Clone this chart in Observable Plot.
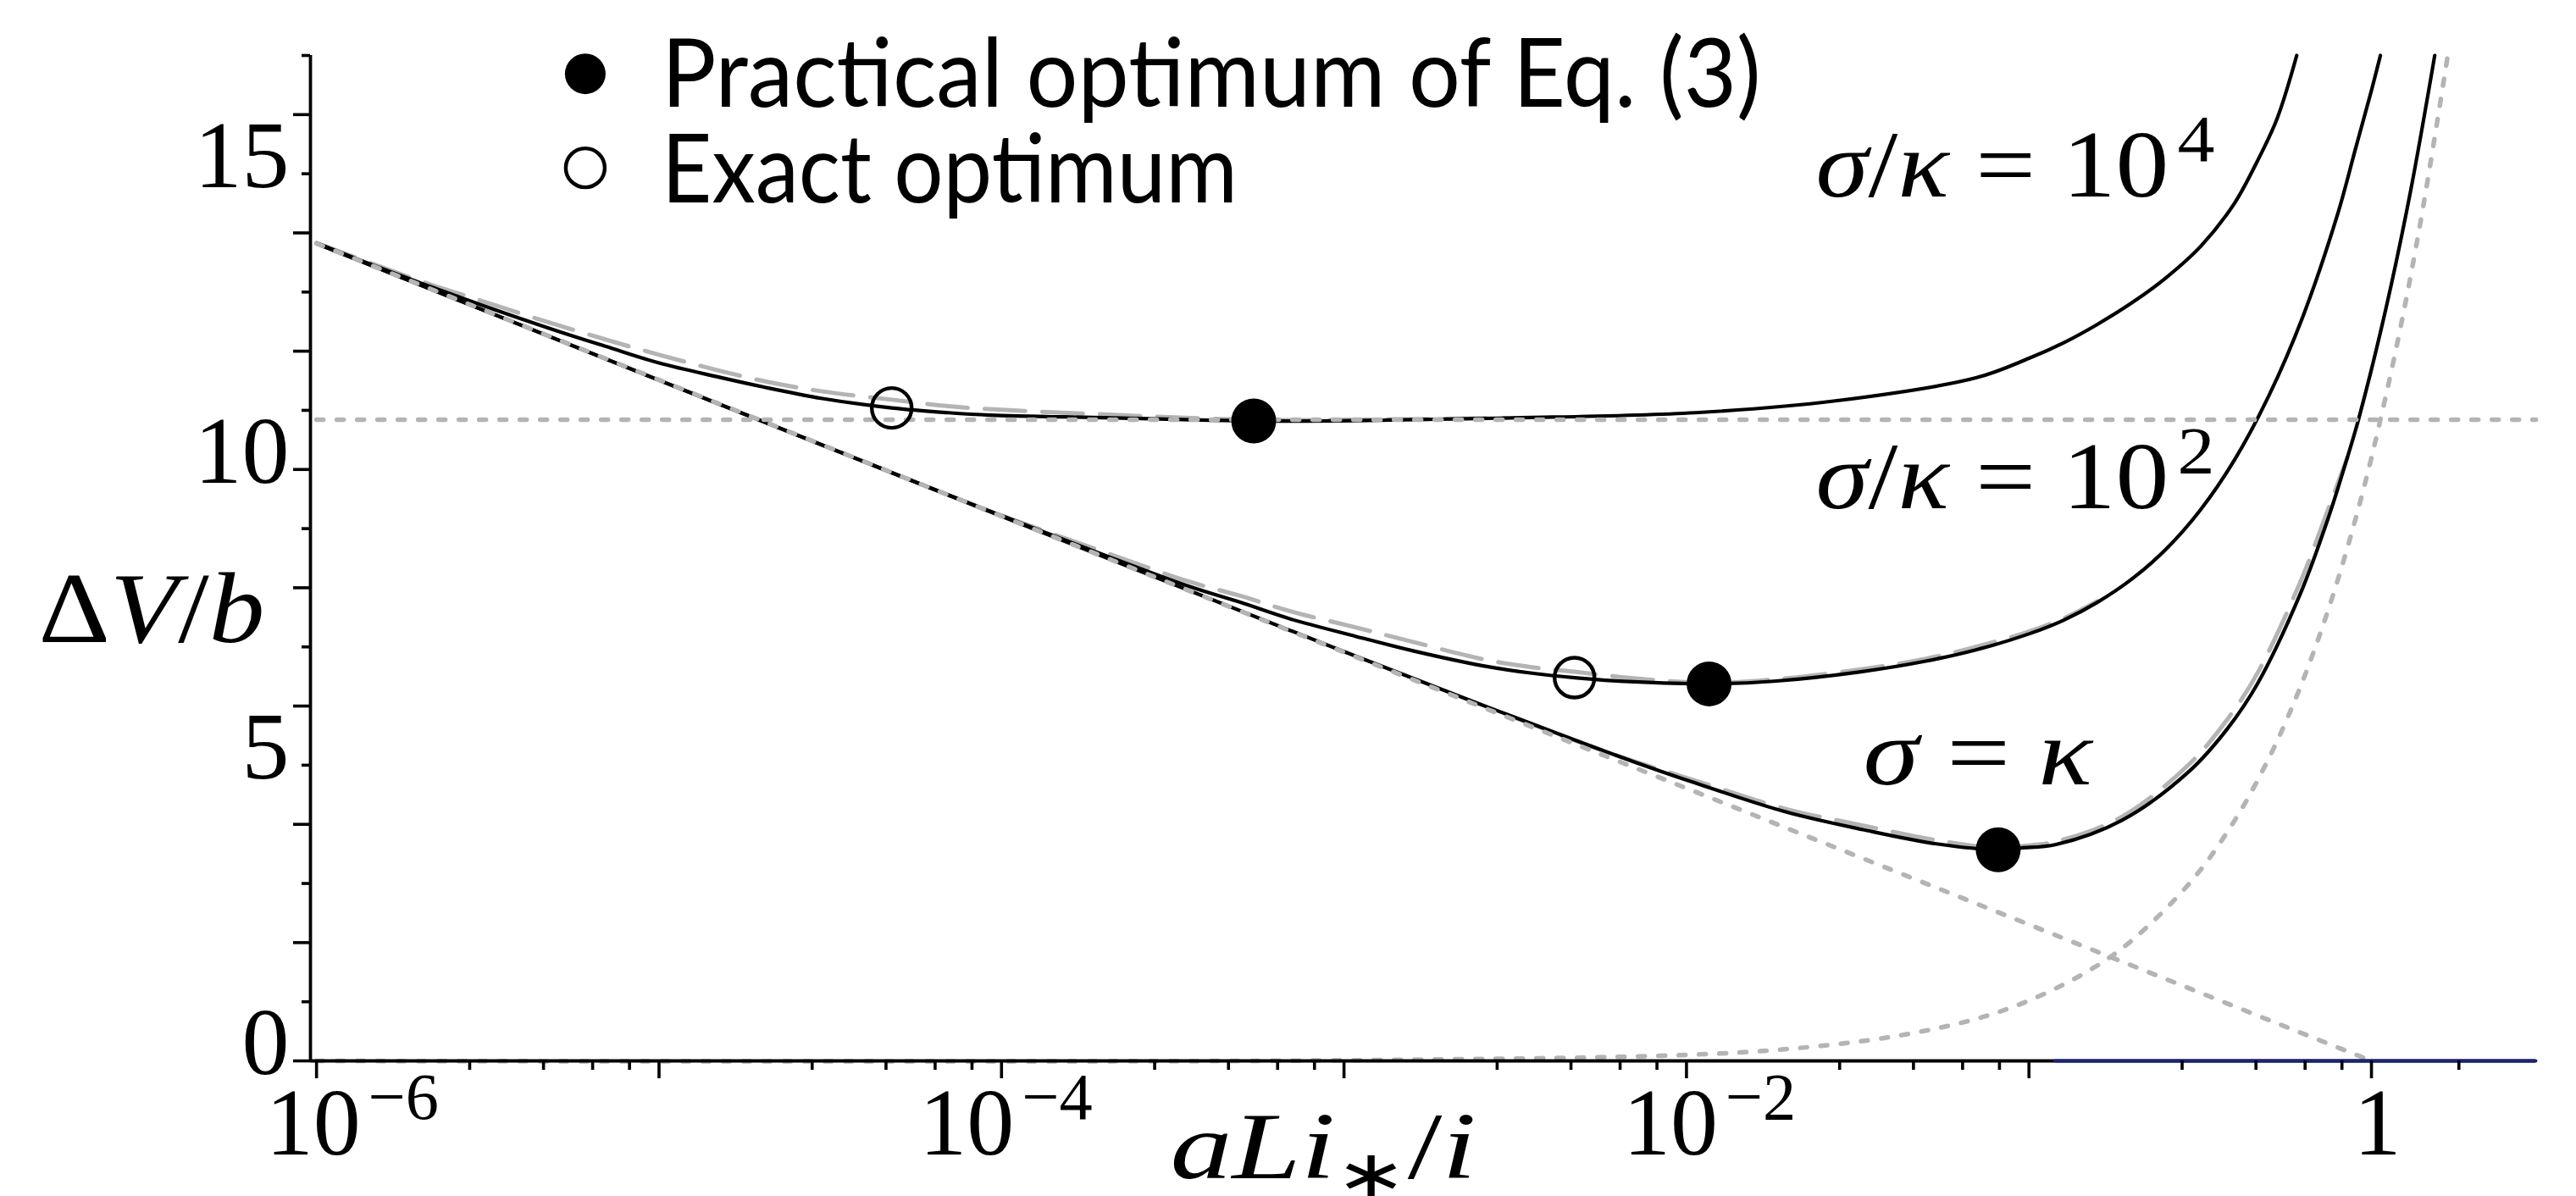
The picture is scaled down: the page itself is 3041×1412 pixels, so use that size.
<!DOCTYPE html>
<html><head><meta charset="utf-8">
<script src="https://cdn.jsdelivr.net/npm/d3@7"></script>
<script src="https://cdn.jsdelivr.net/npm/@observablehq/plot@0.6"></script>
<style>html,body{margin:0;padding:0;background:#fff;}svg{display:block;}</style>
</head><body>
<script>
// ---------------- data ----------------
// sigma/kappa = 10^4, solid (exact)
const curve4X = [1e-6,1.5e-6,2e-6,3e-6,5e-6,7e-6,1e-5,1.5e-5,2e-5,3e-5,4.78e-5,7e-5,9.25e-5,2e-4,5.45e-4,1.08e-3,3e-3,0.0106,0.0272,0.07,0.1,0.126,0.158,0.2,0.251,0.318,0.398,0.463,0.53,0.605];
const curve4Y = [13.83,13.43,13.16,12.79,12.35,12.08,11.80,11.56,11.40,11.20,11.04,10.96,10.92,10.875,10.82,10.825,10.87,10.96,11.16,11.55,11.88,12.14,12.45,12.82,13.24,13.78,14.5,15.2,15.93,17.0];
// sigma/kappa = 10^2, solid
const curve2X = [1e-6,1e-5,5e-5,1e-4,2e-4,3.5e-4,5e-4,7e-4,1.08e-3,1.6e-3,2.55e-3,3.5e-3,4.71e-3,7e-3,0.01164,0.018,0.0323,0.05,0.07,0.1,0.126,0.158,0.2,0.251,0.316,0.398,0.501,0.631,0.794,0.9,1.0,1.062];
const curve2Y = [13.82,11.51,9.90,9.22,8.55,8.03,7.75,7.47,7.18,6.93,6.68,6.56,6.48,6.41,6.375,6.42,6.58,6.76,6.95,7.22,7.45,7.75,8.15,8.65,9.31,10.16,11.24,12.59,14.29,15.44,16.41,17.0];
// sigma = kappa, solid
const curve1X = [1e-6,1e-5,1e-4,1e-3,2.5e-3,5e-3,7e-3,0.0106,0.0195,0.0328,0.0537,0.0813,0.0946,0.12,0.187,0.294,0.38,0.464,0.62,0.75,0.85,0.916,1.1,1.3,1.53];
const curve1Y = [13.82,11.51,9.21,6.92,6.03,5.37,5.06,4.70,4.21,3.91,3.67,3.57,3.60,3.66,4.07,4.90,5.62,6.37,7.90,9.20,10.2,10.84,12.70,14.70,17.00];
// gray dashed approximations
const dash4X = [1e-6,2e-6,3e-6,5e-6,1e-5,2e-5,3e-5,4.78e-5,7e-5,9.25e-5,2e-4,5.45e-4,1.5e-3,3e-3];
const dash4Y = [13.83,13.19,12.86,12.45,11.94,11.50,11.32,11.18,11.07,11.02,10.93,10.84,10.85,10.87];
const dash2X = [1e-4,2e-4,3.5e-4,5e-4,7e-4,1.08e-3,1.6e-3,2.55e-3,3.5e-3,4.71e-3,7e-3,0.01164,0.018,0.0323,0.05,0.07,0.1,0.126,0.158];
const dash2Y = [9.22,8.6,8.11,7.86,7.6,7.33,7.08,6.79,6.66,6.58,6.47,6.39,6.45,6.62,6.8,7.0,7.26,7.48,7.77];
const dash1X = [3e-3,6e-3,0.0106,0.0195,0.0328,0.0537,0.0813,0.0946,0.12,0.187,0.294,0.38,0.464,0.62,0.75,0.85];
const dash1Y = [5.85,5.20,4.74,4.26,3.98,3.73,3.60,3.63,3.71,4.13,5.02,5.78,6.55,8.10,9.35,10.2];
// gray dotted guides
const tafelX = [1e-6,1e-4,1e-2,1];
const tafelY = [13.82,9.21,4.61,0];
const ohmicX = [1e-6,1e-3,0.01,0.02,0.04,0.07,0.1,0.15,0.2,0.3,0.4,0.5,0.6,0.7,0.8,0.9,1.0,1.2,1.4,1.67];
const ohmicY = [0,0.01,0.102,0.204,0.41,0.71,1.02,1.53,2.04,3.06,4.08,5.1,6.12,7.14,8.16,9.18,10.2,12.24,14.28,17.0];
const plateauX = [1e-6,3.02];
const plateauY = [10.84,10.84];
// navy segment on the axis
const baseX = [0.119,3.018];
const baseY = [0,0];
// optima
const practicalX = [5.45e-4,0.01164,0.0813];
const practicalY = [10.82,6.375,3.57];
const exactX = [4.78e-5,4.71e-3];
const exactY = [11.04,6.48];
// ticks & labels
const yMajorTicks = [0,2,4,6,8,10,12,14,16];
const yMinorTicks = [1,3,5,7,9,11,13,15,17];
const yLabelValues = [0,5,10,15];
const yLabels = ["0","5","10","15"];
const xMajorTicks = [1e-6,1e-5,1e-4,1e-3,1e-2,1e-1,1];
const xMinorTicks = [2.8e-6,4.6e-6,6.4e-6,8.2e-6,2.8e-5,4.6e-5,6.4e-5,8.2e-5,2.8e-4,4.6e-4,6.4e-4,8.2e-4,2.8e-3,4.6e-3,6.4e-3,8.2e-3,2.8e-2,4.6e-2,6.4e-2,8.2e-2,0.28,0.46,0.64,0.82,1.8];
const xLabelValues = [1e-6,1e-4,1e-2,1];
const xLabels = ["10<sup>\u22126</sup>","10<sup>\u22124</sup>","10<sup>\u22122</sup>","1"];
const legendLabels = ["Practical optimum of Eq. (3)","Exact optimum"];
const curveLabels = ["<i>\u03c3</i>/<i>\u03ba</i> = 10<sup>4</sup>","<i>\u03c3</i>/<i>\u03ba</i> = 10<sup>2</sup>","<i>\u03c3</i> = <i>\u03ba</i>"];
const yTitle = "\u0394<i>V</i>/<i>b</i>";
const xTitle = "<i>aLi</i><sub>\u2217</sub>/<i>i</i>";

// ---------------- layout (styling) ----------------
const W = 3041, H = 1412, mL = 366, mR = 48, mT = 65, mB = 160;
const xDomain = [9.6e-7, 3.018];
const frameW = W - mL - mR, frameH = H - mT - mB;
const curveLabelPos = [[0.02385,14.61],[0.02385,9.34],[0.03281,4.67]];
const legendDotPos = [[6.09e-6,16.69],[6.09e-6,15.10]];
const legendTextPos = [[1.017e-5,16.13],[1.017e-5,14.51]];
const xLabelDx = [-60,-97,-75,-21];
const serif = "Liberation Serif, Times New Roman, serif";
const GRAY = "#b4b4b4";

const line = (X, Y, o) => Plot.line(X.map((_, i) => i), {x: i => X[i], y: i => Y[i], curve: "catmull-rom", ...o});
const solid = {stroke: "black", strokeWidth: 4.2};
const dashed = {stroke: GRAY, strokeWidth: 5, strokeDasharray: "48,20"};
const dotted = {stroke: GRAY, strokeWidth: 5.5, strokeDasharray: "8,16", curve: "linear"};

const chart = Plot.plot({
  width: W, height: H,
  marginLeft: mL, marginRight: mR, marginTop: mT, marginBottom: mB,
  x: {type: "log", domain: xDomain, axis: null},
  y: {domain: [0, 17], axis: null},
  style: {background: "white", fontFamily: serif, overflow: "visible"},
  marks: [
    line(dash4X, dash4Y, dashed),
    line(dash2X, dash2Y, dashed),
    line(dash1X, dash1Y, dashed),
    line(curve4X, curve4Y, solid),
    line(curve2X, curve2Y, solid),
    line(curve1X, curve1Y, solid),
    line(tafelX, tafelY, dotted),
    line(ohmicX, ohmicY, {...dotted, curve: "catmull-rom"}),
    line(plateauX, plateauY, dotted),
    Plot.ruleY([0], {stroke: "black", strokeWidth: 3.8}),
    Plot.ruleX([xDomain[0]], {y1: 0, y2: 17, stroke: "black", strokeWidth: 3.8}),
    line(baseX, baseY, {stroke: "#1c2470", strokeWidth: 3.8, curve: "linear"}),
    Plot.tickX(xMajorTicks, {x: d => d, insetTop: frameH - 21, dy: 21, stroke: "black", strokeWidth: 3.6}),
    Plot.tickX(xMinorTicks, {x: d => d, insetTop: frameH - 11, dy: 11, stroke: "black", strokeWidth: 3.6}),
    Plot.tickY(yMajorTicks, {y: d => d, insetRight: frameW - 20, dx: -20, stroke: "black", strokeWidth: 3.6}),
    Plot.tickY(yMinorTicks, {y: d => d, insetRight: frameW - 10, dx: -10, stroke: "black", strokeWidth: 3.6}),
    Plot.text(yLabelValues, {x: () => xDomain[0], y: d => d, text: (d, i) => yLabels[i], textAnchor: "end", dx: -25, dy: -20, fontSize: 112, fontFamily: serif}),
    ...xLabelValues.map((v, i) => Plot.text([v], {x: d => d, y: () => 0, text: () => xLabels[i], textAnchor: "start", lineAnchor: "bottom", dx: xLabelDx[i], dy: 110, fontSize: 112, fontFamily: serif})),
    Plot.dot(practicalX.map((_, i) => i), {x: i => practicalX[i], y: i => practicalY[i], r: 26.5, fill: "black", stroke: "none"}),
    Plot.dot(exactX.map((_, i) => i), {x: i => exactX[i], y: i => exactY[i], r: 23.5, fill: "none", stroke: "black", strokeWidth: 4.4}),
    Plot.dot([0], {x: () => legendDotPos[0][0], y: () => legendDotPos[0][1], r: 24, fill: "black", stroke: "none"}),
    Plot.dot([1], {x: () => legendDotPos[1][0], y: () => legendDotPos[1][1], r: 23, fill: "none", stroke: "black", strokeWidth: 4.4}),
    Plot.text(legendLabels, {x: (d, i) => legendTextPos[i][0], y: (d, i) => legendTextPos[i][1], textAnchor: "start", lineAnchor: "bottom", fontSize: 112, fontFamily: "Lato, Open Sans, sans-serif"}),
    Plot.text(curveLabels, {x: (d, i) => curveLabelPos[i][0], y: (d, i) => curveLabelPos[i][1], textAnchor: "start", lineAnchor: "bottom", fontSize: 112, fontFamily: serif}),
    Plot.text([yTitle], {frameAnchor: "top-left", dx: 45 - mL, dy: 757 - mT, textAnchor: "start", lineAnchor: "bottom", fontSize: 118, fontFamily: serif}),
    Plot.text([xTitle], {frameAnchor: "bottom-left", dx: 1381 - mL, dy: 1390 - (H - mB), textAnchor: "start", lineAnchor: "bottom", fontSize: 112, fontFamily: serif})
  ]
});
document.body.append(chart);

// ---------------- rich text (italic, superscript, subscript) ----------------
const NS = "http://www.w3.org/2000/svg";
const targetWidth = new Map([
  [legendLabels[0], 1298], [legendLabels[1], 680],
  [curveLabels[0], 471], [curveLabels[1], 471], [curveLabels[2], 272],
  [yTitle, 267], [xTitle, 361]
]);
chart.querySelectorAll("text").forEach(t => {
  const raw = t.textContent;
  if (/<(i|sup|sub)>/.test(raw)) {
    const fs = parseFloat(getComputedStyle(t).fontSize);
    const parts = raw.split(/(<\/?(?:i|sup|sub)>)/).filter(s => s);
    t.textContent = "";
    let italic = false, mode = null, shift = 0;
    for (const p of parts) {
      if (p === "<i>") { italic = true; continue; }
      if (p === "</i>") { italic = false; continue; }
      if (p === "<sup>") { mode = "sup"; continue; }
      if (p === "<sub>") { mode = "sub"; continue; }
      if (p === "</sup>" || p === "</sub>") { mode = null; continue; }
      const ts = document.createElementNS(NS, "tspan");
      ts.textContent = p;
      if (italic) ts.setAttribute("font-style", "italic");
      const want = mode === "sup" ? -0.375 * fs : mode === "sub" ? 0.2 * fs : 0;
      if (want !== shift) { ts.setAttribute("dy", want - shift); shift = want; }
      if (mode) ts.setAttribute("font-size", 0.7 * fs);
      if (mode === "sup") ts.setAttribute("dx", 0.08 * fs);
      t.appendChild(ts);
    }
  }
  if (targetWidth.has(raw)) {
    const w = t.getBBox().width;
    if (w > 0) {
      const s = targetWidth.get(raw) / w;
      t.setAttribute("transform", (t.getAttribute("transform") || "") + ` scale(${s.toFixed(4)},1)`);
    }
  }
});
</script>
</body></html>
